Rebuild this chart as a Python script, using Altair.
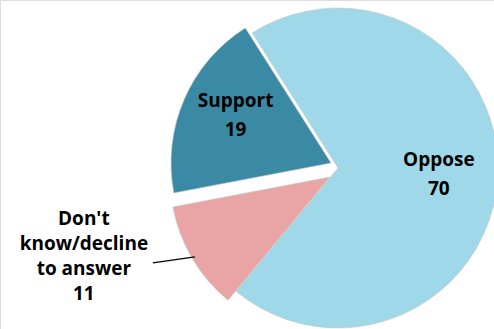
import math
import altair as alt
import pandas as pd

# ---- data ----
categories = ["Oppose", "Don't know/decline to answer", "Support"]
values = [70, 11, 19]
labels = ["Oppose\n70", "Don't\nknow/decline\nto answer\n11", "Support\n19"]
order = [0, 1, 2]
colors = ["#9fd8e8", "#e9a5a5", "#3a8aa6"]

# ---- layout ----
W, H = 494, 329
START = math.radians(-32.4)
R = 160
centers = {
    "Oppose": (338, 168),
    "Don't know/decline to answer": (330, 177),
    "Support": (331, 163),
}
FONT = "Open Sans"
FS = 19

df = pd.DataFrame({"category": categories, "value": values, "label": labels, "order": order})

theta_scale = alt.Scale(domain=[0, 100], range=[START, START + 2 * math.pi])
color_enc = alt.Color("category:N", scale=alt.Scale(domain=categories, range=colors), legend=None)

base = (
    alt.Chart(df)
    .transform_window(cum="sum(value)", sort=[alt.SortField("order")], frame=[None, 0])
    .transform_calculate(start="datum.cum - datum.value", mid="datum.cum - datum.value / 2")
    .transform_calculate(ang=f"{START} + datum.mid / 100 * 2 * PI")
)

layers = []
for cat in categories:
    cx, cy = centers[cat]
    sub = base.transform_filter(alt.datum.category == cat)
    layers.append(
        sub.mark_arc(outerRadius=R, stroke="#c8c8c8", strokeWidth=0.6).encode(
            theta=alt.Theta("start:Q", scale=theta_scale, stack=None),
            theta2="cum:Q",
            color=color_enc,
            x=alt.value(cx),
            y=alt.value(cy),
        )
    )

# inside labels (anchor is the first line)
for cat, rad, dy in [("Oppose", 101, -14), ("Support", 104, -21)]:
    cx, cy = centers[cat]
    layers.append(
        base.transform_filter(alt.datum.category == cat)
        .mark_text(font=FONT, fontSize=FS, fontWeight="bold", lineBreak="\n",
                   lineHeight=29, align="center", baseline="middle", color="black", dy=dy)
        .encode(
            theta=alt.Theta("mid:Q", scale=theta_scale, stack=None),
            radius=alt.value(rad),
            text="label:N",
            x=alt.value(cx),
            y=alt.value(cy),
        )
    )

# outside label with leader line
cat = "Don't know/decline to answer"
cx, cy = centers[cat]
outside = (
    base.transform_filter(alt.datum.category == cat)
    .transform_calculate(
        px=f"{cx} + {R - 3} * sin(datum.ang)",
        py=f"{cy} - {R - 3} * cos(datum.ang)",
    )
    .transform_calculate(qx="datum.px - 42", qy="datum.py + 6",
                         tx="datum.px - 111", ty="datum.py - 38")
)
layers.append(
    outside.mark_rule(color="black", strokeWidth=1.2).encode(
        x=alt.X("px:Q", scale=None), y=alt.Y("py:Q", scale=None),
        x2="qx:Q", y2="qy:Q",
    )
)
layers.append(
    outside.mark_text(font=FONT, fontSize=FS, fontWeight="bold", lineBreak="\n",
                      lineHeight=25, align="center", baseline="middle", color="black")
    .encode(x=alt.X("tx:Q", scale=None), y=alt.Y("ty:Q", scale=None), text="label:N")
)

chart = (
    alt.layer(*layers)
    .properties(width=W, height=H, padding=0, autosize="none")
    .configure_view(stroke=None)
    .configure(background="white")
)

chart.save("out.html", embed_options={"renderer": "svg", "actions": False})
